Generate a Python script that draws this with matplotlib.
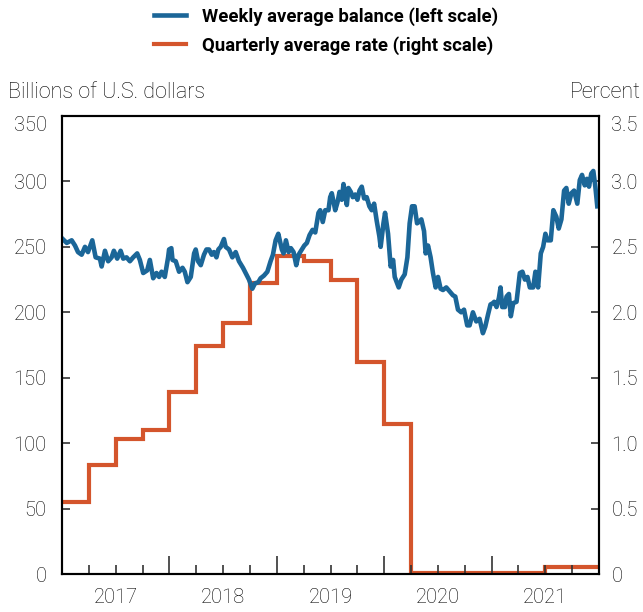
import matplotlib
matplotlib.use('Agg')
import matplotlib.pyplot as plt
from matplotlib.lines import Line2D
import numpy as np

plt.rcParams['font.family'] = ['Roboto', 'DejaVu Sans']
plt.rcParams['font.weight'] = 'light'
plt.rcParams['font.size'] = 14

# ---- data ----
# weekly average balance, billions of USD (x in decimal years)
bal_t = [2017.007, 2017.044, 2017.090, 2017.121, 2017.149, 2017.183, 2017.214, 2017.242,
         2017.282, 2017.313, 2017.353, 2017.369, 2017.400, 2017.430, 2017.462, 2017.483,
         2017.514, 2017.546, 2017.570, 2017.601, 2017.632, 2017.663, 2017.700, 2017.725,
         2017.756, 2017.793, 2017.818, 2017.849, 2017.880, 2017.904, 2017.927, 2017.957,
         2017.988, 2017.997, 2018.018, 2018.029, 2018.059, 2018.090, 2018.122, 2018.143,
         2018.168, 2018.199, 2018.230, 2018.245, 2018.267, 2018.292, 2018.322, 2018.345,
         2018.369, 2018.394, 2018.415, 2018.438, 2018.456, 2018.478, 2018.508, 2018.524,
         2018.555, 2018.586, 2018.617, 2018.648, 2018.685, 2018.710, 2018.741, 2018.772,
         2018.796, 2018.828, 2018.849, 2018.880, 2018.912, 2018.942, 2018.964, 2018.989,
         2019.014, 2019.047, 2019.063, 2019.085, 2019.110, 2019.131, 2019.156, 2019.181,
         2019.203, 2019.233, 2019.256, 2019.280, 2019.305, 2019.333, 2019.358, 2019.388,
         2019.404, 2019.428, 2019.451, 2019.481, 2019.497, 2019.512, 2019.544, 2019.565,
         2019.584, 2019.605, 2019.621, 2019.637, 2019.652, 2019.667, 2019.689, 2019.707,
         2019.730, 2019.751, 2019.770, 2019.791, 2019.813, 2019.837, 2019.862, 2019.884,
         2019.906, 2019.930, 2019.955, 2019.967, 2019.993, 2020.008, 2020.036, 2020.060,
         2020.083, 2020.098, 2020.135, 2020.160, 2020.191, 2020.216, 2020.237, 2020.259,
         2020.283, 2020.306, 2020.324, 2020.346, 2020.371, 2020.386, 2020.408, 2020.432,
         2020.454, 2020.479, 2020.501, 2020.525, 2020.547, 2020.578, 2020.609, 2020.640,
         2020.662, 2020.687, 2020.717, 2020.743, 2020.773, 2020.795, 2020.826, 2020.857,
         2020.888, 2020.919, 2020.941, 2020.966, 2020.990, 2021.012, 2021.024, 2021.046,
         2021.068, 2021.083, 2021.099, 2021.124, 2021.139, 2021.161, 2021.179, 2021.201,
         2021.232, 2021.263, 2021.287, 2021.310, 2021.334, 2021.356, 2021.387, 2021.408,
         2021.433, 2021.458, 2021.480, 2021.501, 2021.520, 2021.551, 2021.575, 2021.603,
         2021.625, 2021.650, 2021.675, 2021.696, 2021.718, 2021.743, 2021.768, 2021.798,
         2021.821, 2021.842, 2021.867, 2021.888, 2021.907, 2021.928, 2021.947, 2021.966,
         2021.984]
bal_v = [256, 253, 255, 251, 246, 244, 250, 246,
         255, 242, 241, 235, 247, 239, 242, 247,
         241, 247, 241, 242, 239, 242, 245, 240,
         230, 232, 240, 226, 230, 227, 231, 227,
         242, 248, 249, 240, 239, 231, 234, 231,
         223, 227, 245, 248, 239, 236, 244, 248,
         248, 244, 246, 242, 248, 250, 256, 250,
         248, 242, 246, 239, 234, 230, 225, 218,
         222, 223, 226, 228, 231, 239, 244, 255,
         260, 248, 245, 255, 246, 249, 246, 236,
         244, 248, 251, 253, 259, 263, 261, 276,
         278, 269, 278, 278, 288, 291, 278, 284,
         292, 286, 298, 290, 282, 295, 292, 288,
         290, 286, 293, 296, 287, 288, 281, 278,
         283, 270, 258, 250, 268, 276, 260, 235,
         240, 227, 219, 225, 229, 242, 268, 281,
         281, 268, 269, 271, 262, 245, 251, 242,
         230, 219, 227, 218, 217, 219, 216, 213,
         212, 202, 200, 202, 190, 190, 200, 193,
         195, 184, 189, 198, 206, 207, 208, 204,
         211, 219, 204, 204, 212, 214, 197, 207,
         208, 230, 231, 225, 227, 219, 219, 231,
         219, 245, 250, 260, 255, 255, 278, 273,
         264, 271, 293, 295, 283, 291, 293, 283,
         301, 305, 297, 302, 296, 306, 308, 296,
         281]

# quarterly average rate, percent
rate_edges = [2017.0, 2017.25, 2017.5, 2017.75, 2018.0, 2018.25, 2018.5, 2018.75,
              2019.0, 2019.25, 2019.5, 2019.75, 2020.0, 2020.25, 2020.5, 2020.75,
              2021.0, 2021.25, 2021.5, 2021.75, 2022.0]
rate_v = [0.55, 0.83, 1.03, 1.10, 1.39, 1.74, 1.92, 2.22,
          2.43, 2.39, 2.25, 1.62, 1.15, 0.01, 0.01, 0.01,
          0.01, 0.01, 0.05, 0.05]

years = [2017, 2018, 2019, 2020, 2021]

blue = '#1b6698'
orange = '#d4552c'
tick_c = '#333333'
text_c = 'black'

fig = plt.figure(figsize=(6.43, 6.12), dpi=100)
ax = fig.add_axes([62 / 643, 38 / 612, 537 / 643, 458 / 612])
ax2 = ax.twinx()

ax2.stairs(rate_v, rate_edges, baseline=None, color=orange, linewidth=3.0)
ln_b, = ax.plot(bal_t, bal_v, color=blue, linewidth=3.3, solid_joinstyle='round')

# blue line on top of the orange one
ax.set_zorder(ax2.get_zorder() + 1)
ax.patch.set_visible(False)

ax.set_xlim(2017, 2022)
ax.set_ylim(0, 350)
ax2.set_ylim(0, 3.5)
ax.set_yticks(np.arange(0, 351, 50))
ax2.set_yticks(np.arange(0, 3.51, 0.5))
ax2.set_yticklabels(['0' if v == 0 else f'{v:.1f}' for v in np.arange(0, 3.51, 0.5)])

ax.set_xticks(years[1:])
ax.set_xticks(np.arange(2017.25, 2022, 0.25), minor=True)
ax.set_xticklabels([])
ax.tick_params(axis='x', which='major', direction='in', length=13, width=1.2, color=tick_c)
ax.tick_params(axis='x', which='minor', direction='in', length=6.5, width=1.2, color=tick_c)
ax.tick_params(axis='y', direction='in', length=6, width=1.2, color=tick_c, pad=11,
               labelsize=14.5, labelcolor=text_c)
ax2.tick_params(axis='y', direction='in', length=6, width=1.2, color=tick_c, pad=9,
                labelsize=14.5, labelcolor=text_c)

for a in (ax, ax2):
    for s in a.spines.values():
        s.set_linewidth(1.5)
        s.set_color('black')

# top tick labels sit just under the frame
ax.get_yticklabels()[-1].set_verticalalignment('top')
ax2.get_yticklabels()[-1].set_verticalalignment('top')

for y in years:
    ax.text(y + 0.5, -0.052, str(y), transform=ax.get_xaxis_transform(),
            ha='center', va='center', fontsize=14.5, color=text_c)

fig.text(8 / 643, 1 - 93 / 612, 'Billions of U.S. dollars', ha='left', va='center',
         fontsize=15.5, color=text_c)
fig.text(641 / 643, 1 - 93 / 612, 'Percent', ha='right', va='center',
         fontsize=15.5, color=text_c)

h_rate = Line2D([], [], color=orange, linewidth=3.0)
leg = fig.legend([ln_b, h_rate],
                 ['Weekly average balance (left scale)', 'Quarterly average rate (right scale)'],
                 loc='upper left', bbox_to_anchor=(154 / 643, 1 - 7 / 612), frameon=False,
                 handlelength=1.75, handletextpad=0.85, labelspacing=0.55,
                 borderpad=0, borderaxespad=0,
                 prop={'family': ['Roboto'], 'weight': 'bold', 'size': 13.3})

fig.savefig('out.png', dpi=100)
